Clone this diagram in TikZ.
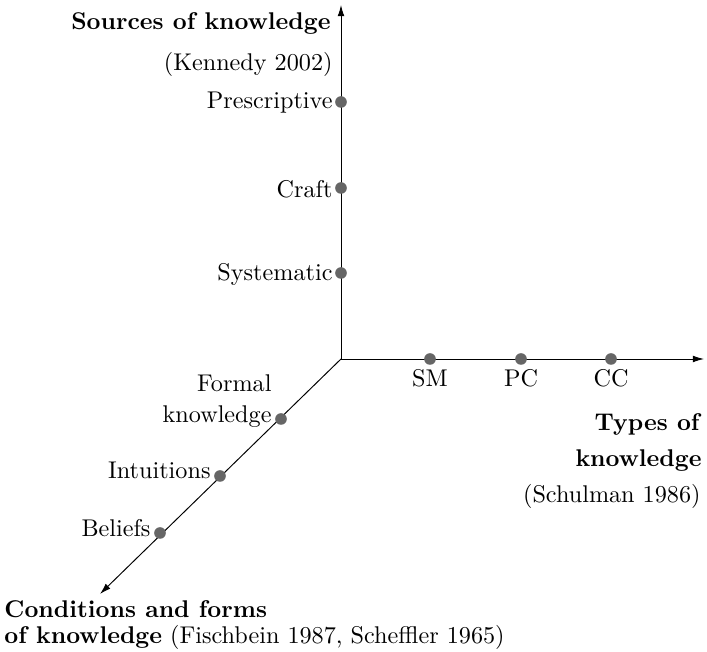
\documentclass[tikz,border=0pt]{standalone}
\usetikzlibrary{arrows.meta}
\begin{document}
\begin{tikzpicture}[x=0.4134pt,y=-0.4134pt,
  thin,axis/.style={draw,-{Latex[length=4.6pt,width=2.8pt]}},
  dot/.style={circle,fill=black!60,inner sep=0pt,minimum size=4.8pt},
  lbl/.style={inner sep=0pt}]
  \useasboundingbox (0,0) rectangle (707,652);
  \coordinate (o) at (341,359);
  \coordinate (up) at (341,5);
  \coordinate (right) at (704,359);
  \coordinate (down) at (100,594);

  \path[axis] (o) -- (up);
  \path[axis] (o) -- (right);
  \path[axis] (o) -- (down);

  % sources
  \node[dot] (pre) at (341,102) {};
  \node[dot] (cra) at (341,188) {};
  \node[dot] (sys) at (341,273) {};
  \node[lbl,anchor=east] at (333,103) {Prescriptive};
  \node[lbl,anchor=east] at (333,189) {Craft};
  \node[lbl,anchor=east] at (333,274) {Systematic};
  \node[lbl,anchor=east] (src) at (331,23) {\textbf{Sources of knowledge}};
  \node[lbl,anchor=east] (ken) at (333,64) {(Kennedy 2002)};

  % types
  \node[dot] (sm) at (430,359) {};
  \node[dot] (pc) at (521,359) {};
  \node[dot] (cc) at (611,359) {};
  \node[lbl,anchor=north] at (430,369) {SM};
  \node[lbl,anchor=north] at (521,369) {PC};
  \node[lbl,anchor=north] at (611,369) {CC};
  \node[lbl,anchor=east] (typ) at (702,424) {\textbf{Types of}};
  \node[lbl,anchor=east] (kno) at (702,461) {\textbf{knowledge}};
  \node[lbl,anchor=east] (sch) at (701,496) {(Schulman 1986)};

  % conditions
  \node[dot] (for) at (281,419) {};
  \node[dot] (int) at (220,476) {};
  \node[dot] (bel) at (160,533) {};
  \node[lbl,anchor=south east,align=right] at (272,428) {Formal\\[1pt]knowledge};
  \node[lbl,anchor=east] at (211,470) {Intuitions};
  \node[lbl,anchor=east] at (151,528) {Beliefs};
  \node[lbl,anchor=west] (con) at (4,609) {\textbf{Conditions and forms}};
  \node[lbl,anchor=west] (fis) at (4,637) {\textbf{of knowledge} (Fischbein 1987, Scheffler 1965)};
\end{tikzpicture}
\end{document}
